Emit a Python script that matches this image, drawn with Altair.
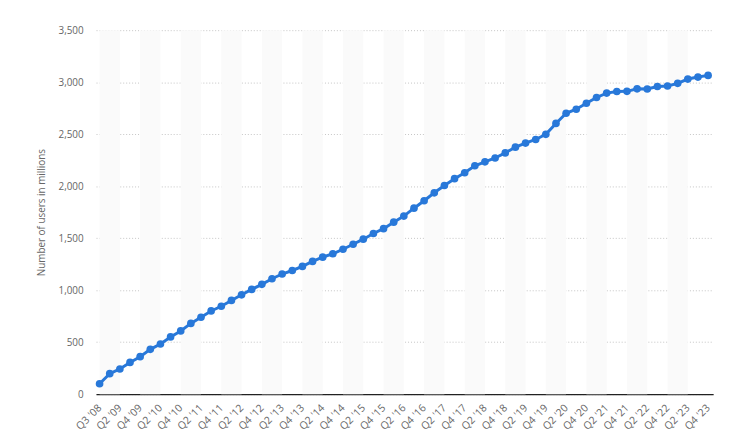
import altair as alt
import pandas as pd

quarters = ["Q3 '08",
    "Q1 '09", "Q2 '09", "Q3 '09", "Q4 '09",
    "Q1 '10", "Q2 '10", "Q3 '10", "Q4 '10",
    "Q1 '11", "Q2 '11", "Q3 '11", "Q4 '11",
    "Q1 '12", "Q2 '12", "Q3 '12", "Q4 '12",
    "Q1 '13", "Q2 '13", "Q3 '13", "Q4 '13",
    "Q1 '14", "Q2 '14", "Q3 '14", "Q4 '14",
    "Q1 '15", "Q2 '15", "Q3 '15", "Q4 '15",
    "Q1 '16", "Q2 '16", "Q3 '16", "Q4 '16",
    "Q1 '17", "Q2 '17", "Q3 '17", "Q4 '17",
    "Q1 '18", "Q2 '18", "Q3 '18", "Q4 '18",
    "Q1 '19", "Q2 '19", "Q3 '19", "Q4 '19",
    "Q1 '20", "Q2 '20", "Q3 '20", "Q4 '20",
    "Q1 '21", "Q2 '21", "Q3 '21", "Q4 '21",
    "Q1 '22", "Q2 '22", "Q3 '22", "Q4 '22",
    "Q1 '23", "Q2 '23", "Q3 '23", "Q4 '23"]

users = [100,
    197, 242, 305, 360,
    431, 482, 550, 608,
    680, 739, 800, 845,
    901, 955, 1007, 1056,
    1110, 1155, 1189, 1228,
    1276, 1317, 1350, 1393,
    1441, 1490, 1545, 1591,
    1654, 1712, 1788, 1860,
    1936, 2006, 2072, 2129,
    2196, 2234, 2271, 2320,
    2375, 2414, 2449, 2498,
    2603, 2701, 2740, 2797,
    2853, 2895, 2910, 2912,
    2936, 2934, 2958, 2963,
    2989, 3030, 3049, 3065]

y_ticks = [0, 500, 1000, 1500, 2000, 2500, 3000, 3500]

df = pd.DataFrame({"i": list(range(len(quarters))), "q": quarters, "users": users})
label_idx = list(range(0, len(quarters), 2))
band_df = pd.DataFrame({"start": list(range(0, len(quarters) - 2, 4))})
band_df["end"] = band_df["start"] + 2

W, H = 624, 368
label_arr = "[" + ",".join('"' + q + '"' for q in quarters) + "]"

xscale = alt.Scale(domain=[-0.35, 60.5], nice=False, zero=False)
xaxis = alt.Axis(values=label_idx, labelExpr=label_arr + "[datum.value]",
                 labelAngle=-45, labelAlign="right", labelBaseline="middle",
                 labelPadding=12, labelOverlap=False, labelBound=False,
                 labelFlush=False,
                 ticks=False, grid=False, domain=True,
                 domainColor="#222222", domainWidth=1.5, title=None,
                 labelColor="#666666", labelFontSize=10.5, labelFont="Open Sans")
yscale = alt.Scale(domain=[0, 3500], nice=False)
yaxis = alt.Axis(values=y_ticks, format=",.0f", title="Number of users in millions",
                 domain=False, ticks=False, grid=True, gridDash=[1, 2],
                 gridColor="#c4c4c4", labelColor="#666666", labelFontSize=10,
                 labelFont="Open Sans", labelPadding=13, labelOverlap=False,
                 titleColor="#666666",
                 titleFontSize=10, titleFont="Open Sans", titleFontWeight="normal",
                 titlePadding=12)

bands = alt.Chart(band_df).mark_rect(color="#fafafa").encode(
    x=alt.X("start:Q", scale=xscale, axis=xaxis),
    x2="end:Q",
    y=alt.value(0), y2=alt.value(H))

line = alt.Chart(df).mark_line(color="#2878d9", strokeWidth=3).encode(
    x=alt.X("i:Q", scale=xscale, axis=xaxis),
    y=alt.Y("users:Q", scale=yscale, axis=yaxis))

pts = alt.Chart(df).mark_point(filled=True, color="#2878d9", size=60, opacity=1).encode(
    x=alt.X("i:Q", scale=xscale, axis=xaxis),
    y=alt.Y("users:Q", scale=yscale, axis=yaxis))

chart = (bands + line + pts).properties(
    width=W, height=H,
    autosize=alt.AutoSizeParams(type="none"),
    padding={"left": 89, "top": 20, "right": 15, "bottom": 48},
).configure(background="white"
).configure_view(stroke=None
).configure_axisX(labelOverlap=False, labelAngle=-45)

chart.save("out.html", embed_options={"renderer": "svg", "actions": False})
